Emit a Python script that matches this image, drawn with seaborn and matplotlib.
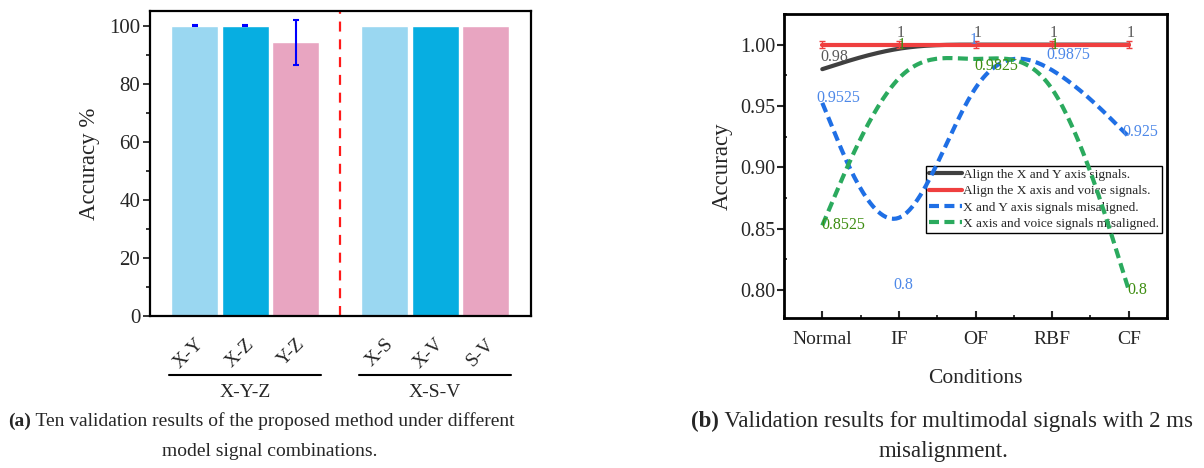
import matplotlib
matplotlib.use("Agg")
import matplotlib.pyplot as plt
import matplotlib.transforms as mtransforms
from matplotlib.ticker import MultipleLocator, FormatStrFormatter
from matplotlib.lines import Line2D
import seaborn as sns
import numpy as np
import pandas as pd

# ---- data: panel (a) ----
combos = ['X-Y', 'X-Z', 'Y-Z', 'X-S', 'X-V', 'S-V']
groups = ['X-Y-Z', 'X-Y-Z', 'X-Y-Z', 'X-S-V', 'X-S-V', 'X-S-V']
acc = [100, 100, 94.2, 100, 100, 100]
acc_std = [0.3, 0.3, 7.8, 0, 0, 0]
bar_colors = ['#9AD7F1', '#07AEE1', '#E8A5C1', '#9AD7F1', '#07AEE1', '#E8A5C1']

# ---- data: panel (b) ----
conditions = ['Normal', 'IF', 'OF', 'RBF', 'CF']
xy_aligned = [0.98, 1, 1, 1, 1]
xv_aligned = [1, 1, 1, 1, 1]
xy_misaligned = [0.9525, 0.8, 1, 0.9875, 0.925]
xv_misaligned = [0.8525, 1, 0.9825, 1, 0.8]

sns.set_style('ticks')
plt.rcParams['font.family'] = ['Liberation Serif', 'DejaVu Serif']

fig = plt.figure(figsize=(12.04, 4.68), dpi=100)

# ================= panel (a) =================
ax1 = fig.add_axes([150/1204, 1-316/468, 381/1204, 305/468])
gap = 0.75
pos = [i + (gap if g == 'X-S-V' else 0) for i, g in enumerate(groups)]
df = pd.DataFrame({'pos': pos, 'acc': acc, 'combo': combos})
sns.barplot(data=df, x='pos', y='acc', hue='combo', palette=bar_colors,
            native_scale=True, width=0.93, dodge=False, legend=False,
            errorbar=None, saturation=1, ax=ax1)
# error bars only where there is spread
eb = [(p, a, s) for p, a, s in zip(pos, acc, acc_std) if s > 0]
ax1.errorbar([e[0] for e in eb], [e[1] for e in eb], yerr=[e[2] for e in eb],
             fmt='none', ecolor='#0000FF', elinewidth=1.5, capsize=2.5, capthick=1.5)
ax1.axvline((pos[2] + pos[3]) / 2, color='#FF1A1A', lw=1.6, linestyle=(0, (4.5, 3.5)))
ax1.set_xlim(-0.88, 6.64)
ax1.set_ylim(0, 105)
ax1.yaxis.set_major_locator(MultipleLocator(20))
ax1.yaxis.set_minor_locator(MultipleLocator(10))
ax1.set_xticks(pos)
ax1.set_xticklabels(combos, rotation=45, ha='right', rotation_mode='anchor', fontsize=14)
ax1.tick_params(axis='x', length=0, pad=14)
ax1.tick_params(axis='y', which='major', length=5, width=1.3, labelsize=15, pad=2)
ax1.tick_params(axis='y', which='minor', length=3, width=1.3)
ax1.set_xlabel('')
ax1.set_ylabel('Accuracy %', fontsize=16.5)
ax1.yaxis.set_label_coords(-0.131, 0.5)
for s in ax1.spines.values():
    s.set_visible(True)
    s.set_linewidth(1.6)
    s.set_color('black')

# group brackets under the tick labels
trans = mtransforms.blended_transform_factory(ax1.transData, ax1.transAxes)
for g in ['X-Y-Z', 'X-S-V']:
    gp = [p for p, gg in zip(pos, groups) if gg == g]
    ax1.plot([min(gp) - 0.5, max(gp) + 0.5], [-0.193, -0.193], color='black',
             lw=1.5, transform=trans, clip_on=False)
    ax1.text(np.mean(gp), -0.25, g, transform=trans, ha='center', va='center', fontsize=14)

# ================= panel (b) =================
ax2 = fig.add_axes([784/1204, 1-318/468, 383/1204, 304/468])


def bspline(xc, yc, n=30):
    # uniform cubic B-spline with clamped (tripled) end points
    px = np.r_[xc[0], xc[0], xc, xc[-1], xc[-1]]
    py = np.r_[yc[0], yc[0], yc, yc[-1], yc[-1]]
    t = np.linspace(0, 1, n)
    b = np.array([(1-t)**3, 3*t**3 - 6*t**2 + 4, -3*t**3 + 3*t**2 + 3*t + 1, t**3]) / 6
    xs, ys = [], []
    for i in range(len(px) - 3):
        xs.append(b.T @ px[i:i+4])
        ys.append(b.T @ py[i:i+4])
    return np.concatenate(xs), np.concatenate(ys)


xi = np.arange(len(conditions), dtype=float)
dash = (0, (2.4, 1.3))
series = [
    (xy_aligned, '#404040', '-', 'Align the X and Y axis signals.', '#595959', (-2, 12)),
    (xy_misaligned, '#1F6FE5', dash, 'X and Y axis signals misaligned.', '#4D88E8', (-6, 5)),
    (xv_misaligned, '#2BAA5E', dash, 'X axis and voice signals misaligned.', '#3E8E12', (-1, 0)),
    (xv_aligned, '#EF3F3F', '-', 'Align the X axis and voice signals.', '#EF3F3F', None),
]
for vals, col, ls, lab, tcol, off in series:
    sx, sy = bspline(xi, np.array(vals, dtype=float))
    sns.lineplot(x=sx, y=sy, sort=False, estimator=None, color=col, lw=3,
                 linestyle=ls, ax=ax2, zorder=4 if col == '#EF3F3F' else 3)
    if off is not None:
        for x, v in zip(xi, vals):
            ax2.annotate(f'{v:g}', (x, v), xytext=(off[0]*0.72, off[1]*0.72),
                         textcoords='offset points', ha='left', va='center',
                         color=tcol, fontsize=11.5, zorder=6)
ax2.errorbar(xi, xv_aligned, yerr=0.003, fmt='none', ecolor='#EF3F3F',
             elinewidth=1, capsize=2, capthick=1, zorder=5)

ax2.set_xlim(-0.5, 4.5)
ax2.set_ylim(0.777, 1.025)
ax2.set_xticks(xi)
ax2.set_xticklabels(conditions, fontsize=14)
ax2.xaxis.set_minor_locator(MultipleLocator(0.5))
ax2.yaxis.set_major_locator(MultipleLocator(0.05))
ax2.yaxis.set_minor_locator(MultipleLocator(0.025))
ax2.yaxis.set_major_formatter(FormatStrFormatter('%.2f'))
ax2.tick_params(axis='x', which='major', direction='in', length=5, width=1.5, pad=9)
ax2.tick_params(axis='x', which='minor', direction='in', length=2.5, width=1.3)
ax2.tick_params(axis='y', which='major', direction='out', length=5, width=1.5,
                labelsize=14.5, pad=1)
ax2.tick_params(axis='y', which='minor', direction='in', length=2.5, width=1.3)
ax2.set_xlabel('Conditions', fontsize=15.5)
ax2.xaxis.set_label_coords(0.5, -0.168)
ax2.set_ylabel('Accuracy', fontsize=16.5)
ax2.yaxis.set_label_coords(-0.133, 0.5)
for s in ax2.spines.values():
    s.set_visible(True)
    s.set_linewidth(2)
    s.set_color('black')

order = (0, 3, 1, 2)
handles = [Line2D([], [], color=series[i][1], lw=3, linestyle=series[i][2]) for i in order]
labels = [series[i][3] for i in order]
leg = ax2.legend(handles, labels, loc='upper right', bbox_to_anchor=(0.987, 0.5),
                 borderaxespad=0, fontsize=9.6, handlelength=2.5, handletextpad=0.1,
                 labelspacing=0.3, borderpad=0.2, fancybox=False, framealpha=1)
leg.get_frame().set_edgecolor('black')
leg.get_frame().set_linewidth(1)
leg.set_zorder(2)


# ================= captions =================
def caption(x, y, tag, rest, size):
    t = fig.text(x/1204, 1-y/468, tag, fontsize=size, fontweight='bold', va='center', ha='left')
    fig.add_artist(plt.Annotation(' ' + rest, xy=(1, 0.5), xycoords=t,
                                  va='center', ha='left', fontsize=size))


caption(8, 421, '(a)', 'Ten validation results of the proposed method under different', 14)
fig.text(270/1204, 1-451/468, 'model signal combinations.', fontsize=14, ha='center', va='center')
caption(691, 421, '(b)', 'Validation results for multimodal signals with 2 ms', 16.5)
fig.text(944/1204, 1-451/468, 'misalignment.', fontsize=16.5, ha='center', va='center')

fig.savefig('out.png', dpi=100)
